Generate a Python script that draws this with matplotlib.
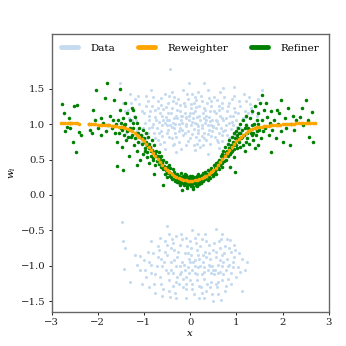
import matplotlib
matplotlib.use("Agg")
import matplotlib.pyplot as plt
from matplotlib.lines import Line2D

plt.rcParams['font.family'] = 'DejaVu Serif'
plt.rcParams['mathtext.fontset'] = 'dejavuserif'
plt.rcParams['font.size'] = 7.3

# --- Data: upper cluster ---
data_up_x = [-0.44, 0.30, -1.51, 1.55, 0.94, 0.72, -1.20, -0.95, -0.70, -0.35,
             0.05, 0.40, 0.85, 1.20, -1.35, -1.05, -0.82, -0.58, -0.22, 0.12,
             0.33, 0.62, 0.98, 1.32, -1.25, -0.98, -0.75, -0.50, -0.30, -0.08,
             0.15, 0.42, 0.68, 0.90, 1.15, 1.45, -1.15, -0.88, -0.62, -0.40,
             -0.18, 0.02, 0.25, 0.50, 0.75, 1.02, 1.28, -0.95, -0.70, -0.45,
             -0.25, 0.00, 0.20, 0.45, 0.70, 0.95, -0.55, -0.30, 0.10, 0.38,
             0.62, -0.12, 0.08, 0.22, -0.38, 0.55, -0.65, 0.30, -0.05, 0.15,
             -0.25, 0.35, -0.48, 0.60, -0.80, 0.80, -0.15, 0.48, -0.60, 0.25,
             -0.90, 1.08, -1.10, 0.10, -0.32, 0.68, -0.78, 0.88, -1.40, 1.38,
             -0.05, 0.45, -0.55, 0.18, -0.20, 0.05, 0.38, -0.42, 0.72, -0.68,
             1.10, -1.05, 0.58, -0.35, 0.28, -0.10, 0.82, -0.85, 1.20, -1.22,
             0.02, -0.28, 0.52, -0.62, 0.95, -1.30, 1.48, -0.15, 0.18, -0.85,
             0.65, 1.25, -1.45, 0.08, -0.48, 0.42, -0.18, 0.28, -0.72, 0.78,
             0.12, -0.40, 0.35, -0.02, 0.62, -0.52, 0.92, -0.95, 1.05, -1.15,
             -0.08, 0.20, -0.30, 0.48, -0.60, 0.70, -0.88, 1.00, 0.32, -0.22,
             0.10, -0.40, 0.55, -0.75, 0.85, -1.02, 1.18, -0.12, 0.40, -0.50,
             0.00, 0.25, -0.35, 0.62, -0.65, 0.15, -1.32, 1.30, -0.02, 0.38,
             -1.42, -1.38, -1.28, -1.18, -1.12, -1.08, -1.00, -0.92, -0.92, -0.86,
             -0.83, -0.80, -0.77, -0.73, -0.70, -0.67, -0.64, -0.60, -0.57, -0.55,
             -0.53, -0.50, -0.47, -0.45, -0.43, -0.40, -0.38, -0.36, -0.33, -0.31,
             -0.28, -0.26, -0.24, -0.21, -0.19, -0.17, -0.14, -0.11, -0.09, -0.07,
             -0.04, -0.02, 0.01, 0.03, 0.06, 0.09, 0.11, 0.13, 0.16, 0.19,
             0.21, 0.23, 0.26, 0.29, 0.31, 0.34, 0.36, 0.39, 0.41, 0.44,
             0.46, 0.49, 0.51, 0.54, 0.57, 0.59, 0.61, 0.64, 0.66, 0.69,
             0.71, 0.74, 0.77, 0.79, 0.82, 0.84, 0.87, 0.90, 0.92, 0.96,
             0.99, 1.03, 1.06, 1.09, 1.13, 1.16, 1.22, 1.27, 1.35, 1.42,
             -0.10, 0.07, -0.20, 0.18, 0.30, -0.35, 0.45, -0.45, 0.58, -0.58]
data_up_y = [1.77, 1.58, 1.58, 1.48, 1.52, 1.51, 1.35, 1.40, 1.33, 1.38,
             1.42, 1.36, 1.30, 1.33, 1.20, 1.18, 1.25, 1.21, 1.27, 1.24,
             1.20, 1.26, 1.17, 1.22, 1.05, 1.02, 1.10, 1.05, 1.12, 1.08,
             1.10, 1.04, 1.09, 1.03, 1.08, 1.12, 0.92, 0.95, 0.90, 0.96,
             0.92, 0.98, 0.94, 0.97, 0.91, 0.96, 0.93, 0.80, 0.78, 0.82,
             0.75, 0.80, 0.77, 0.83, 0.76, 0.84, 0.65, 0.60, 0.63, 0.58,
             0.66, 1.15, 1.30, 1.05, 1.02, 1.15, 1.15, 0.88, 0.90, 1.00,
             1.00, 1.12, 1.30, 1.00, 1.00, 1.18, 0.85, 0.90, 0.98, 1.32,
             1.12, 1.25, 1.28, 1.18, 0.88, 0.85, 0.88, 0.93, 0.98, 1.00,
             1.35, 1.25, 1.42, 0.88, 1.05, 1.03, 0.98, 1.15, 1.05, 1.03,
             0.88, 0.85, 0.78, 0.72, 0.70, 0.70, 0.70, 0.68, 1.00, 1.12,
             1.22, 1.20, 1.38, 1.27, 1.40, 1.42, 1.35, 1.48, 1.45, 1.48,
             1.45, 1.15, 1.30, 0.93, 0.92, 1.18, 1.12, 1.15, 0.95, 0.98,
             0.82, 0.80, 0.78, 1.12, 1.20, 1.10, 1.12, 1.25, 0.78, 0.80,
             0.97, 1.25, 1.30, 1.05, 0.83, 1.30, 1.05, 1.05, 1.02, 0.94,
             1.38, 1.45, 0.95, 1.20, 0.80, 0.95, 1.18, 1.25, 0.92, 0.98,
             1.15, 0.83, 1.08, 0.88, 0.72, 0.72, 1.08, 1.28, 1.58, 1.48,
             1.18, 0.88, 1.30, 1.05, 1.40, 0.75, 1.15, 0.88, 1.32, 1.18,
             0.96, 1.38, 0.80, 1.06, 1.22, 0.88, 1.36, 1.12, 0.74, 1.02,
             1.24, 0.87, 1.15, 1.40, 0.98, 1.22, 0.70, 1.32, 1.00, 0.82,
             1.08, 1.35, 0.90, 1.18, 0.65, 1.02, 1.30, 0.88, 1.10, 1.42,
             0.76, 1.05, 1.28, 0.86, 1.15, 0.70, 1.02, 1.34, 0.92, 1.12,
             0.68, 1.40, 0.98, 1.22, 0.80, 1.05, 1.30, 0.86, 1.10, 0.72,
             1.32, 0.96, 1.18, 0.82, 1.06, 1.34, 0.74, 1.12, 0.95, 1.22,
             0.90, 1.38, 1.08, 0.84, 1.25, 1.02, 1.12, 1.35, 0.98, 1.22,
             0.90, 1.15, 1.32, 0.95, 1.05, 1.42, 1.10, 1.38, 1.15, 1.25,
             1.00, 1.08, 1.12, 0.97, 1.08, 0.95, 0.99, 1.06, 1.04, 1.06]

# --- Data: lower cluster ---
data_lo_x = [-1.48, -1.45, -1.40, -1.43, -1.30, -1.09, -1.09, -0.51, 0.55, 1.24,
             1.12, 0.67, 0.19, -0.44, 1.08, 1.18, 0.86, 0.18,
             -0.90, -0.85, -0.80, -0.78, -0.72, -0.70, -0.65, -0.62, -0.58, -0.55,
             -0.52, -0.50, -0.45, -0.42, -0.40, -0.38, -0.35, -0.32, -0.30, -0.28,
             -0.25, -0.22, -0.20, -0.18, -0.15, -0.12, -0.10, -0.08, -0.05, -0.02,
             0.00, 0.02, 0.05, 0.08, 0.10, 0.12, 0.15, 0.18, 0.20, 0.22,
             0.25, 0.28, 0.30, 0.32, 0.35, 0.38, 0.40, 0.42, 0.45, 0.48,
             0.50, 0.52, 0.55, 0.58, 0.60, 0.62, 0.65, 0.68, 0.70, 0.72,
             0.75, 0.78, 0.80, 0.82, 0.85, 0.88, 0.92, 0.95, 1.00,
             -0.60, -0.48, -0.35, -0.22, -0.12, 0.00, 0.10, 0.20, 0.30, 0.40,
             0.50, 0.60, -0.70, -0.42, -0.28, -0.05, 0.15, 0.35, 0.45, 0.25,
             -0.15, -0.38, 0.05, 0.55, 0.70, -0.95, -1.00, -0.88, 0.88, 0.95,
             -0.65, 0.00, 0.32, -0.20, 0.65, -0.55, 0.10, -0.08, 0.42, 0.75,
             -0.75, 0.25, -0.30, 0.60, 1.05, -1.15, 0.80, -0.45,
             -0.98, -0.92, -0.84, -0.76, -0.68, -0.63, -0.57, -0.49, -0.46, -0.41,
             -0.36, -0.31, -0.27, -0.23, -0.18, -0.14, -0.09, -0.06, -0.03, 0.01,
             0.04, 0.07, 0.11, 0.14, 0.17, 0.21, 0.24, 0.27, 0.31, 0.34,
             0.37, 0.41, 0.44, 0.47, 0.51, 0.54, 0.57, 0.61, 0.64, 0.67,
             0.71, 0.74, 0.77, 0.81, 0.84, 0.89, 0.93, 0.98, 1.03, 1.12,
             -1.05, -1.20, -0.10, 0.30, -0.60, 0.50, 0.05, -0.30, 0.70, -0.85]
data_lo_y = [-0.38, -0.65, -0.75, -1.04, -1.22, -1.05, -0.86, -0.44, -0.48, -0.94,
             -1.35, -1.48, -1.45, -1.44, -1.08, -1.06, -0.64, -0.55,
             -0.95, -1.10, -0.82, -1.25, -1.00, -0.72, -1.15, -0.90, -1.32, -0.65,
             -1.05, -0.85, -1.20, -0.95, -0.62, -1.10, -0.78, -1.38, -1.00, -0.88,
             -1.25, -0.70, -1.08, -0.95, -1.30, -0.82, -1.15, -0.60, -1.02, -0.90,
             -1.20, -0.75, -1.05, -1.40, -0.92, -0.68, -1.12, -0.85, -1.28, -1.00,
             -0.62, -0.95, -1.18, -0.80, -1.35, -1.05, -0.70, -0.90, -1.22, -1.00,
             -0.78, -1.12, -0.88, -1.30, -0.98, -0.65, -1.08, -0.85, -1.20, -0.95,
             -0.72, -1.05, -0.90, -1.18, -0.98, -0.80, -1.02, -0.88, -1.15,
             -1.00, -1.10, -0.92, -1.00, -1.05, -0.95, -1.00, -0.90, -1.02, -0.98,
             -1.05, -1.10, -0.88, -0.75, -1.15, -0.82, -0.78, -0.88, -1.10, -1.12,
             -1.18, -1.28, -1.25, -1.25, -1.00, -1.15, -0.92, -1.30, -1.25, -0.70,
             -0.60, -0.65, -0.55, -0.55, -0.75, -0.80, -1.10, -1.32, -1.30, -1.35,
             -1.38, -1.38, -1.45, -1.40, -0.82, -0.98, -0.62, -0.55,
             -1.05, -0.80, -0.98, -1.12, -0.78, -1.25, -0.95, -0.70, -1.35, -1.05,
             -0.68, -1.22, -0.80, -1.12, -0.62, -0.98, -1.25, -0.72, -1.10, -0.85,
             -1.32, -0.95, -0.60, -1.20, -1.02, -0.72, -1.30, -0.85, -1.08, -0.65,
             -1.25, -0.82, -1.00, -1.40, -0.68, -1.05, -0.80, -1.22, -0.92, -0.62,
             -1.12, -0.82, -1.28, -1.00, -0.75, -1.10, -0.95, -0.78, -1.02, -0.90,
             -1.25, -0.85, -1.45, -1.45, -1.42, -1.50, -0.50, -0.58, -0.55, -0.65]

# --- Reweighter ---
rew_x = [-2.80, -2.75, -2.70, -2.65, -2.60, -2.55, -2.50, -2.45, -2.40,
         -2.20, -2.15, -2.10, -2.05, -2.00, -1.95, -1.90, -1.85, -1.80, -1.75,
         -1.70, -1.65, -1.60, -1.55, -1.50, -1.45, -1.40, -1.35, -1.30, -1.25,
         -1.20, -1.15, -1.10, -1.05, -1.00, -0.95, -0.90, -0.85, -0.80, -0.75,
         -0.70, -0.65, -0.60, -0.55, -0.50, -0.45, -0.40, -0.35, -0.30, -0.25,
         -0.20, -0.15, -0.10, -0.05, 0.00, 0.05, 0.10, 0.15, 0.20, 0.25,
         0.30, 0.35, 0.40, 0.45, 0.50, 0.55, 0.60, 0.65, 0.70, 0.75,
         0.80, 0.85, 0.90, 0.95, 1.00, 1.05, 1.10, 1.15, 1.20, 1.25,
         1.30, 1.35, 1.40, 1.45, 1.50, 1.55, 1.60, 1.65, 1.70, 1.75,
         1.80, 1.85, 1.90, 1.95, 2.00, 2.05, 2.10, 2.15, 2.20, 2.25,
         2.30, 2.35, 2.40, 2.45, 2.50, 2.55, 2.60, 2.65, 2.70]
rew_y = [1.020, 1.018, 1.017, 1.015, 1.013, 1.012, 1.010, 1.008, 1.006,
         1.000, 0.998, 0.997, 0.995, 0.993, 0.990, 0.988, 0.986, 0.983, 0.980,
         0.977, 0.974, 0.970, 0.965, 0.960, 0.953, 0.945, 0.934, 0.920, 0.902,
         0.880, 0.852, 0.820, 0.792, 0.760, 0.722, 0.680, 0.636, 0.590, 0.550,
         0.510, 0.465, 0.420, 0.385, 0.350, 0.322, 0.295, 0.274, 0.255, 0.239,
         0.225, 0.214, 0.205, 0.201, 0.200, 0.201, 0.205, 0.214, 0.225, 0.239,
         0.255, 0.274, 0.295, 0.322, 0.350, 0.385, 0.420, 0.465, 0.510, 0.550,
         0.590, 0.636, 0.680, 0.722, 0.760, 0.792, 0.820, 0.852, 0.880, 0.902,
         0.920, 0.934, 0.945, 0.953, 0.960, 0.965, 0.970, 0.974, 0.977, 0.980,
         0.983, 0.986, 0.989, 0.992, 0.995, 0.997, 1.000, 1.002, 1.004, 1.006,
         1.008, 1.010, 1.012, 1.013, 1.015, 1.016, 1.018, 1.019, 1.020]

# --- Refiner ---
ref_x = [-0.30, -0.28, -0.26, -0.25, -0.23, -0.22, -0.20, -0.19, -0.17, -0.16,
         -0.14, -0.13, -0.12, -0.10, -0.09, -0.08, -0.06, -0.05, -0.04, -0.02,
         -0.01, 0.00, 0.01, 0.02, 0.04, 0.05, 0.06, 0.08, 0.09, 0.10,
         0.12, 0.13, 0.14, 0.16, 0.17, 0.18, 0.20, 0.21, 0.22, 0.24,
         0.25, 0.27, 0.28, 0.30, -0.27, -0.18, -0.11, -0.03, 0.03, 0.11,
         0.19, 0.26, -0.21, 0.15, -0.07, 0.07,
         0.32, 0.33, 0.35, 0.36, 0.38, 0.39, 0.41, 0.42, 0.44, 0.45,
         0.47, 0.48, 0.50, 0.51, 0.53, 0.54, 0.56, 0.57, 0.59, 0.60,
         0.62, 0.63, 0.65, 0.66, 0.68, 0.69, 0.70,
         -0.32, -0.33, -0.35, -0.36, -0.38, -0.40, -0.41, -0.43, -0.44, -0.46,
         -0.47, -0.49, -0.50, -0.52, -0.53, -0.55, -0.56, -0.58, -0.59, -0.61,
         -0.62, -0.64, -0.65, -0.67, -0.68, -0.70,
         0.72, 0.73, 0.75, 0.76, 0.78, 0.79, 0.81, 0.82, 0.84, 0.85,
         0.87, 0.88, 0.90, 0.91, 0.93, 0.94, 0.96, 0.97, 0.99, 1.00,
         1.02, 1.03, 1.05, 1.06, 1.08, 1.10,
         -0.72, -0.74, -0.75, -0.77, -0.78, -0.80, -0.82, -0.83, -0.85, -0.86,
         -0.88, -0.90, -0.91, -0.93, -0.95, -0.96, -0.98, -1.00, -1.02, -1.03,
         -1.05, -1.07, -1.08, -1.10,
         1.12, 1.14, 1.15, 1.17, 1.19, 1.20, 1.22, 1.24, 1.26, 1.28,
         1.30, 1.32, 1.34, 1.36, 1.38, 1.40, 1.42, 1.44, 1.46, 1.48,
         1.50, 1.52, 1.54, 1.56, 1.58, 1.60,
         -1.12, -1.14, -1.16, -1.18, -1.20, -1.22, -1.24, -1.26, -1.28, -1.30,
         -1.32, -1.34, -1.36, -1.38, -1.40, -1.42, -1.44, -1.46, -1.48, -1.50,
         -1.52, -1.54, -1.56, -1.58, -1.60,
         1.63, 1.66, 1.70, 1.72, 1.75, 1.78, 1.82, 1.85, 1.90, 1.93,
         1.97, 2.05, 2.08, 2.12, 2.18, 2.25, 2.30, 2.38, 2.45, 2.55,
         -1.63, -1.67, -1.70, -1.74, -1.78, -1.82, -1.88, -1.92, -2.00, -2.06,
         -2.12, -2.20, -2.60, -2.70,
         -2.78, -2.73, -2.63, -2.52, -2.45, -2.66, -2.59, -2.53, -2.48, -2.37,
         -2.41, -2.10, -2.03, -1.80, -1.85, -2.17, -1.94, -1.65, -1.58, -1.45,
         -1.51, -1.24, -1.15, -0.94, -0.79, -0.58, -0.18, 0.07, 0.86, 0.97,
         1.37, 1.55, 1.65, 1.88, 1.96, 2.16, 2.00, 2.50, 2.43, 2.23,
         2.58, 2.63, 2.65, 1.76, 1.40, 1.08, 0.94,
         -0.24, -0.15, -0.05, 0.00, 0.05, 0.12, 0.20, 0.28, -0.29, 0.23,
         -0.19, 0.09, -0.12, 0.16, -0.01, 0.26,
         0.34, 0.40, 0.46, 0.52, 0.58, 0.64, 0.67, 0.43, 0.55, 0.61,
         -0.34, -0.39, -0.45, -0.51, -0.57, -0.63, -0.66, -0.42, -0.54, -0.60,
         0.74, 0.80, 0.86, 0.92, 0.98, 1.04, 1.09, 0.77, 0.89, 1.01,
         -0.73, -0.79, -0.84, -0.89, -0.94, -0.99, -1.04, -1.09, -0.81, -0.97,
         1.13, 1.18, 1.23, 1.29, 1.35, 1.41, 1.47, 1.21, 1.33, 1.45,
         -1.13, -1.19, -1.25, -1.31, -1.37, -1.43, -1.49, -1.23, -1.35, -1.47]
ref_y = [0.22, 0.30, 0.19, 0.27, 0.16, 0.24, 0.31, 0.18, 0.22, 0.27,
         0.14, 0.21, 0.25, 0.17, 0.23, 0.28, 0.13, 0.20, 0.25, 0.16,
         0.22, 0.27, 0.12, 0.19, 0.24, 0.15, 0.21, 0.26, 0.17, 0.23,
         0.14, 0.20, 0.27, 0.18, 0.24, 0.30, 0.15, 0.22, 0.27, 0.19,
         0.25, 0.31, 0.20, 0.26, 0.25, 0.20, 0.19, 0.18, 0.17, 0.19,
         0.21, 0.22, 0.14, 0.12, 0.10, 0.11,
         0.22, 0.33, 0.26, 0.30, 0.21, 0.35, 0.28, 0.32, 0.24, 0.38,
         0.30, 0.35, 0.27, 0.42, 0.34, 0.39, 0.30, 0.45, 0.38, 0.47,
         0.36, 0.50, 0.42, 0.55, 0.45, 0.58, 0.40,
         0.28, 0.20, 0.33, 0.25, 0.36, 0.22, 0.30, 0.38, 0.27, 0.42,
         0.31, 0.25, 0.40, 0.35, 0.46, 0.30, 0.41, 0.50, 0.37, 0.45,
         0.55, 0.40, 0.50, 0.60, 0.44, 0.55,
         0.62, 0.48, 0.56, 0.68, 0.50, 0.62, 0.72, 0.55, 0.66, 0.78,
         0.58, 0.70, 0.82, 0.62, 0.74, 0.88, 0.65, 0.80, 0.90, 0.70,
         0.84, 0.95, 0.75, 0.88, 1.00, 0.80,
         0.48, 0.62, 0.42, 0.58, 0.70, 0.50, 0.64, 0.78, 0.55, 0.68,
         0.45, 0.72, 0.82, 0.60, 0.75, 0.88, 0.66, 0.80, 0.58, 0.92,
         0.72, 0.85, 0.50, 0.95,
         0.92, 0.70, 1.05, 0.85, 0.62, 0.98, 1.12, 0.80, 0.95, 0.72,
         1.08, 0.88, 1.18, 0.78, 1.00, 1.25, 0.85, 1.05, 0.70, 1.15,
         0.92, 1.30, 0.80, 1.05, 0.90, 1.20,
         0.75, 1.02, 0.62, 0.88, 1.10, 0.70, 0.95, 1.22, 0.82, 1.05,
         0.55, 0.92, 1.15, 0.78, 1.00, 1.30, 0.85, 1.08, 0.68, 0.95,
         1.20, 0.88, 1.05, 0.75, 1.00,
         0.95, 1.10, 0.85, 1.02, 1.18, 0.92, 1.05, 0.80, 1.00, 1.15,
         0.90, 1.08, 0.95, 1.22, 1.00, 0.92, 1.05, 1.10, 0.98, 1.05,
         0.88, 1.05, 0.95, 1.12, 0.98, 0.90, 1.02, 0.85, 0.95, 1.05,
         0.88, 1.00, 1.02, 0.90,
         1.28, 1.15, 1.08, 1.25, 1.27, 0.96, 0.94, 0.74, 0.61, 0.84,
         0.89, 1.20, 1.48, 1.58, 1.36, 0.92, 1.08, 1.34, 0.41, 0.35,
         1.50, 1.20, 0.42, 0.54, 0.30, 0.14, 0.07, 0.08, 0.40, 0.33,
         0.87, 1.41, 1.29, 1.20, 1.34, 0.70, 0.75, 1.34, 1.22, 1.12,
         0.82, 1.17, 0.75, 0.61, 0.66, 0.68, 0.54,
         0.21, 0.17, 0.23, 0.15, 0.27, 0.24, 0.26, 0.24, 0.18, 0.17,
         0.26, 0.20, 0.29, 0.16, 0.18, 0.28,
         0.28, 0.25, 0.34, 0.30, 0.42, 0.46, 0.50, 0.31, 0.36, 0.40,
         0.24, 0.30, 0.33, 0.32, 0.40, 0.46, 0.53, 0.26, 0.38, 0.48,
         0.55, 0.58, 0.66, 0.70, 0.75, 0.80, 0.88, 0.60, 0.60, 0.66,
         0.55, 0.60, 0.62, 0.66, 0.70, 0.74, 0.80, 0.82, 0.52, 0.62,
         0.82, 0.95, 0.88, 0.92, 0.98, 0.95, 1.00, 0.75, 0.85, 0.90,
         0.88, 0.80, 0.85, 0.95, 0.90, 0.98, 1.02, 1.02, 0.82, 0.92]

fig = plt.figure(figsize=(3.46, 3.46), dpi=100)
ax = fig.add_axes([0.149, 0.098, 0.801, 0.804])

c_data = '#c6dbef'
ax.scatter(data_up_x, data_up_y, s=5, color=c_data, linewidths=0)
ax.scatter(data_lo_x, data_lo_y, s=5, color=c_data, linewidths=0)
ax.scatter(ref_x, ref_y, s=6.5, color='green', linewidths=0)
ax.scatter(rew_x, rew_y, s=7, color='orange', linewidths=0)

ax.set_xlim(-3, 3)
ax.set_ylim(-1.65, 2.27)
ax.set_xticks([-3, -2, -1, 0, 1, 2, 3])
ax.set_yticks([-1.5, -1.0, -0.5, 0.0, 0.5, 1.0, 1.5])
ax.set_xlabel('$x$', labelpad=1)
ax.set_ylabel('$w_i$', labelpad=2)
ax.tick_params(length=2.5, width=0.7, pad=2, colors='#222222')
for sp in ax.spines.values():
    sp.set_color('#666666')
    sp.set_linewidth(1.0)

handles = [Line2D([], [], color=c_data, lw=3.5, solid_capstyle='round'),
           Line2D([], [], color='orange', lw=3.5, solid_capstyle='round'),
           Line2D([], [], color='green', lw=3.5, solid_capstyle='round')]
ax.legend(handles, ['Data', 'Reweighter', 'Refiner'], loc='upper center', ncol=3,
          frameon=False, handlelength=1.6, columnspacing=2.2, handletextpad=1.2,
          borderaxespad=0.5, fontsize=7.5)

fig.savefig('out.png', dpi=100)
